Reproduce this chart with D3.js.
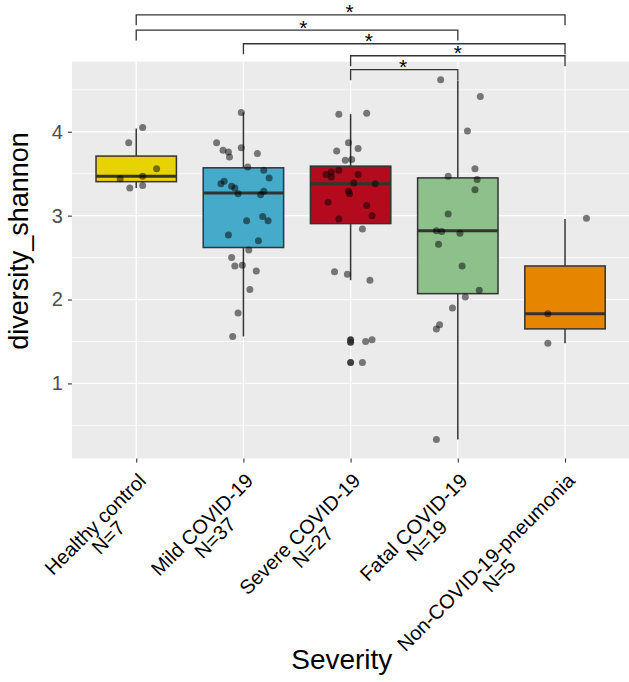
<!DOCTYPE html>
<html>
<head>
<meta charset="utf-8">
<script src="https://cdn.jsdelivr.net/npm/d3@7/dist/d3.min.js"></script>
<style>
  html, body { margin: 0; padding: 0; background: #ffffff; }
  svg { display: block; }
  text { font-family: "Liberation Sans", Arial, Helvetica, sans-serif; }
</style>
</head>
<body>
<svg id="chart" width="629" height="682"></svg>
<script>
// ---------------- data ----------------
const categories = ["Healthy control", "Mild COVID-19", "Severe COVID-19", "Fatal COVID-19", "Non-COVID-19-pneumonia"];
const counts = [7, 37, 27, 19, 5];

// box statistics: [lower whisker, Q1, median, Q3, upper whisker]
const boxHealthy = [3.33, 3.405, 3.47, 3.71, 4.04];
const boxMild    = [1.56, 2.62, 3.27, 3.57, 4.23];
const boxSevere  = [2.23, 2.905, 3.38, 3.59, 4.21];
const boxFatal   = [0.33, 2.07, 2.82, 3.45, 4.61];
const boxNonCovid = [1.48, 1.65, 1.83, 2.40, 2.96];

// outliers (drawn at group centre)
const outSevere = [1.52, 1.49, 1.25];

// jittered observations: values and horizontal jitter (category units)
const valHealthy = [3.87, 4.05, 3.56, 3.44, 3.47, 3.33, 3.36];
const jitHealthy = [-0.07, 0.06, 0.19, -0.15, 0.06, -0.06, 0.06];

const valMild = [4.23, 3.87, 3.81, 3.78, 3.76, 3.70, 3.74, 3.58, 3.54, 3.45, 3.38, 3.41, 3.35, 3.33, 3.26,
                 3.25, 3.29, 2.99, 2.94, 2.94, 2.77, 2.70, 2.59, 2.50, 2.40, 2.41, 2.34, 2.12, 1.84, 1.56];
const jitMild = [-0.02, -0.25, -0.02, -0.19, -0.14, -0.13, 0.13, 0.04, 0.19, 0.24, -0.21, -0.18, -0.11, -0.08, -0.05,
                 0.16, 0.19, 0.18, 0.23, 0.03, -0.14, 0.14, 0.05, -0.11, -0.08, -0.01, 0.12, 0.06, -0.05, -0.10];

const valSevere = [4.21, 4.22, 3.87, 3.80, 3.77, 3.66, 3.67, 3.54, 3.52, 3.49, 3.46, 3.49, 3.39, 3.38, 3.29,
                   3.26, 3.16, 3.12, 3.00, 2.96, 2.84, 2.33, 2.30, 2.23, 1.50, 1.52, 1.25];
const jitSevere = [-0.11, 0.15, -0.02, 0.07, -0.13, -0.05, 0.01, -0.11, -0.18, -0.23, -0.18, 0.07, 0.03, 0.23, -0.02,
                   -0.01, -0.21, 0.15, 0.20, -0.11, 0.11, -0.15, -0.03, 0.18, 0.14, 0.20, 0.11];

const valFatal = [4.62, 4.42, 4.01, 3.56, 3.43, 3.47, 3.31, 3.02, 2.82, 2.81, 2.79, 2.66, 2.40, 2.11, 2.03,
                  1.90, 1.70, 1.65, 0.33];
const jitFatal = [-0.16, 0.21, 0.09, 0.16, 0.18, -0.09, 0.16, -0.09, -0.20, -0.15, 0.02, -0.18, 0.04, 0.20, 0.07,
                  -0.05, -0.17, -0.20, -0.20];

const valNonCovid = [2.97, 1.83, 1.48];
const jitNonCovid = [0.20, -0.16, -0.16];

// significance brackets: group indices, bracket level (data units), label position (category units)
const bracketFrom  = [0, 0, 1, 2, 2];
const bracketTo    = [4, 3, 4, 4, 3];
const bracketLevel = [5.394, 5.212, 5.049, 4.906, 4.740];
const bracketLabelPos = [1.99, 1.56, 2.17, 3.00, 2.49];
const bracketLabels = ["*", "*", "*", "*", "*"];

const yTicks = [1, 2, 3, 4];
const yMinor = [0.5, 1.5, 2.5, 3.5, 4.5];

// ---------------- styles ----------------
const fills = ["#E6D300", "#46ABCB", "#B40A1E", "#8EC08C", "#E68600"];

const boxes = [boxHealthy, boxMild, boxSevere, boxFatal, boxNonCovid];
const outliers = [[], [], outSevere, [], []];
const vals = [valHealthy, valMild, valSevere, valFatal, valNonCovid];
const jits = [jitHealthy, jitMild, jitSevere, jitFatal, jitNonCovid];

// ---------------- layout ----------------
const svg = d3.select("#chart");
const panel = { left: 71.9, top: 61.7, bottom: 458.5 };
const step = 107.2;

const x = d3.scaleLinear().domain([-0.6, categories.length - 0.4]).range([panel.left, panel.left + 5.2 * step]);
const y = d3.scaleLinear().domain([0.105, 4.835]).range([panel.bottom, panel.top]);

// panel background
svg.append("rect")
  .attr("x", panel.left).attr("y", panel.top)
  .attr("width", x.range()[1] - panel.left).attr("height", panel.bottom - panel.top)
  .attr("fill", "#EBEBEB");

// minor grid
svg.append("g").selectAll("line").data(yMinor).join("line")
  .attr("x1", panel.left).attr("x2", x.range()[1])
  .attr("y1", d => y(d)).attr("y2", d => y(d))
  .attr("stroke", "#ffffff").attr("stroke-width", 0.7);

// major grid
svg.append("g").selectAll("line").data(yTicks).join("line")
  .attr("x1", panel.left).attr("x2", x.range()[1])
  .attr("y1", d => y(d)).attr("y2", d => y(d))
  .attr("stroke", "#ffffff").attr("stroke-width", 1.3);
svg.append("g").selectAll("line").data(categories).join("line")
  .attr("x1", (d, i) => x(i)).attr("x2", (d, i) => x(i))
  .attr("y1", panel.top).attr("y2", panel.bottom)
  .attr("stroke", "#ffffff").attr("stroke-width", 1.3);

// axes (ticks)
const yAxis = d3.axisLeft(y).tickValues(yTicks).tickSize(4).tickPadding(5).tickFormat(d3.format("d"));
const gy = svg.append("g").attr("transform", `translate(${panel.left},0)`).call(yAxis);
gy.select(".domain").remove();
gy.selectAll(".tick line").attr("stroke", "#333333").attr("stroke-width", 1.1);
gy.selectAll(".tick text").attr("fill", "#4D4D4D").style("font-size", "20px")
  .style("font-family", "'Liberation Sans', Arial, sans-serif");

const xAxis = d3.axisBottom(x).tickValues(d3.range(categories.length)).tickSize(4).tickFormat("");
const gx = svg.append("g").attr("transform", `translate(0,${panel.bottom})`).call(xAxis);
gx.select(".domain").remove();
gx.selectAll(".tick line").attr("stroke", "#333333").attr("stroke-width", 1.1);

// boxes
const bw = 0.75;
const gBox = svg.append("g");
boxes.forEach((b, i) => {
  const g = gBox.append("g");
  g.append("line").attr("x1", x(i)).attr("x2", x(i)).attr("y1", y(b[3])).attr("y2", y(b[4]))
    .attr("stroke", "#333333").attr("stroke-width", 1.5);
  g.append("line").attr("x1", x(i)).attr("x2", x(i)).attr("y1", y(b[1])).attr("y2", y(b[0]))
    .attr("stroke", "#333333").attr("stroke-width", 1.5);
  g.append("rect")
    .attr("x", x(i - bw / 2)).attr("width", x(i + bw / 2) - x(i - bw / 2))
    .attr("y", y(b[3])).attr("height", y(b[1]) - y(b[3]))
    .attr("fill", fills[i]).attr("stroke", "#333333").attr("stroke-width", 1.5);
  g.append("line").attr("x1", x(i - bw / 2)).attr("x2", x(i + bw / 2))
    .attr("y1", y(b[2])).attr("y2", y(b[2]))
    .attr("stroke", "#333333").attr("stroke-width", 2.9);
  g.selectAll("circle.out").data(outliers[i]).join("circle").attr("class", "out")
    .attr("cx", x(i)).attr("cy", d => y(d)).attr("r", 3.5)
    .attr("fill", "#2b2b2b").attr("fill-opacity", 0.9);
});

// jitter points
const gPts = svg.append("g");
vals.forEach((arr, i) => {
  gPts.append("g").selectAll("circle").data(arr).join("circle")
    .attr("cx", (d, k) => x(i + jits[i][k]))
    .attr("cy", d => y(d))
    .attr("r", 3.5)
    .attr("fill", "#000000").attr("fill-opacity", 0.5);
});

// brackets
const tip = 0.125;
const gBr = svg.append("g");
bracketFrom.forEach((a, k) => {
  const b = bracketTo[k], lv = bracketLevel[k];
  const path = d3.path();
  path.moveTo(x(a), y(lv - tip));
  path.lineTo(x(a), y(lv));
  path.lineTo(x(b), y(lv));
  path.lineTo(x(b), y(lv - tip));
  gBr.append("path").attr("d", path.toString())
    .attr("fill", "none").attr("stroke", "#333333").attr("stroke-width", 1.3);
  gBr.append("text")
    .attr("x", x(bracketLabelPos[k])).attr("y", y(lv) + 4.5)
    .attr("text-anchor", "middle")
    .style("font-size", "21px").attr("fill", "#000000")
    .text(bracketLabels[k]);
});

// x tick labels (rotated, two centred lines, right aligned to tick)
const gXL = svg.append("g");
categories.forEach((c, i) => {
  const g = gXL.append("g").attr("transform", `translate(${x(i) + 11},${482}) rotate(-45)`);
  const t1 = g.append("text").style("font-size", "20px").attr("fill", "#000000")
    .attr("text-anchor", "middle").text(c);
  const w1 = t1.node().getComputedTextLength();
  const t2 = g.append("text").style("font-size", "20px").attr("fill", "#000000")
    .attr("text-anchor", "middle").attr("y", 18.5).text("N=" + counts[i]);
  const w2 = t2.node().getComputedTextLength();
  const w = Math.max(w1, w2);
  t1.attr("x", -w / 2);
  t2.attr("x", -w / 2);
});

// axis titles
svg.append("text")
  .attr("x", 341.8).attr("y", 669)
  .attr("text-anchor", "middle")
  .style("font-size", "28px").attr("fill", "#000000")
  .text("Severity");

svg.append("text")
  .attr("transform", `translate(28.3,241) rotate(-90)`)
  .attr("text-anchor", "middle")
  .style("font-size", "27px").attr("fill", "#000000")
  .text("diversity_shannon");
</script>
</body>
</html>
